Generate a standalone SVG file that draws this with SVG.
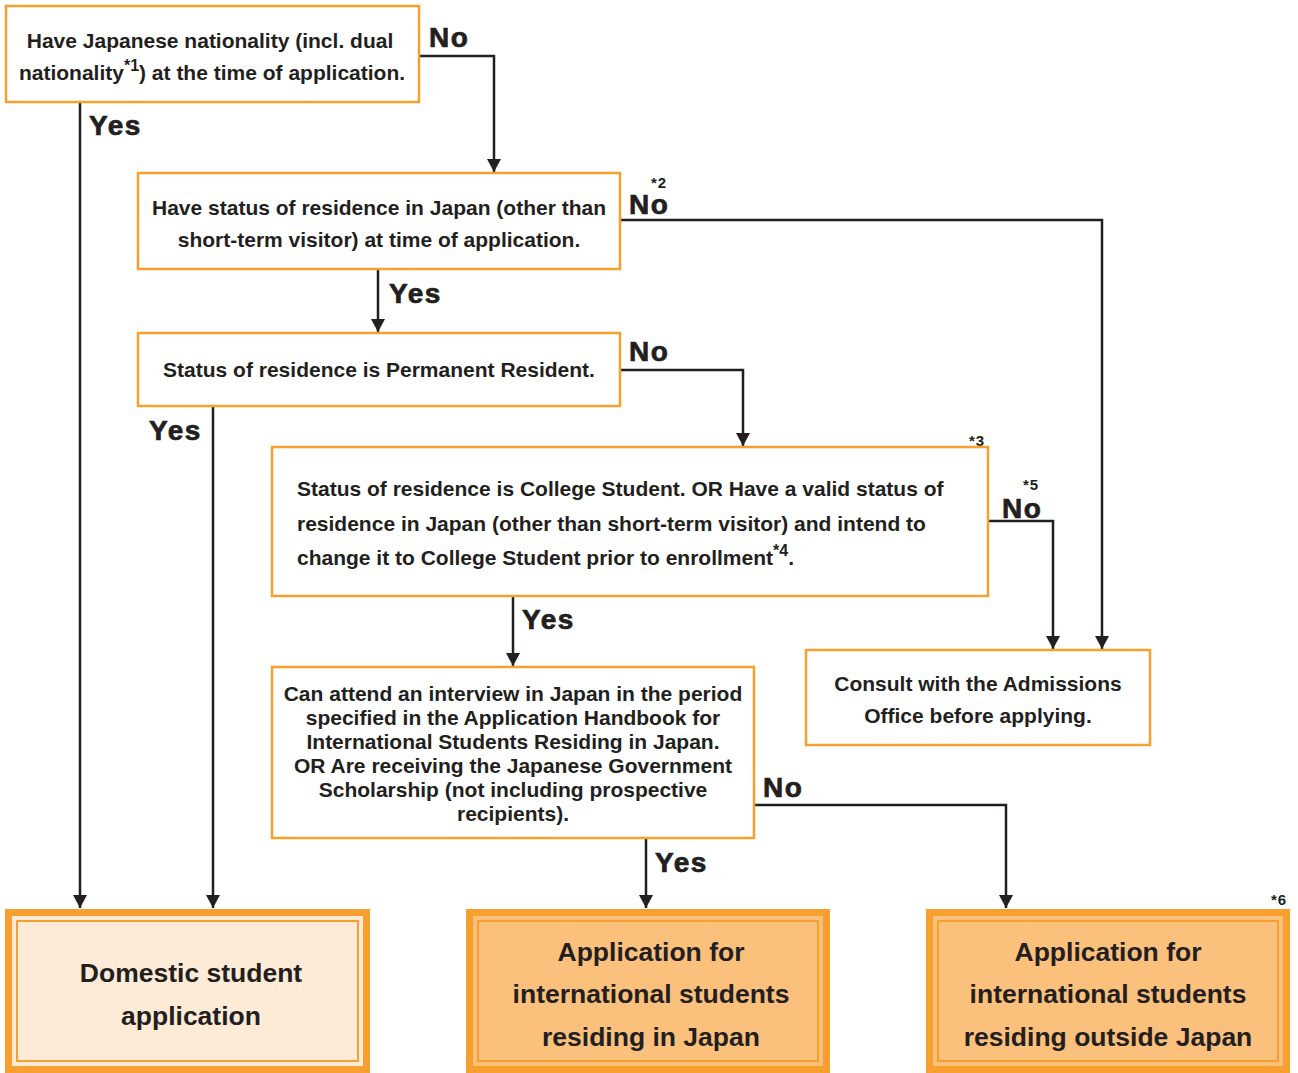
<svg xmlns="http://www.w3.org/2000/svg" width="1298" height="1073" viewBox="0 0 1298 1073">
<defs>
<style>
.box{fill:#fff;stroke:#F7A030;stroke-width:2.5}
.t{font-family:"Liberation Sans",Arial,sans-serif;font-weight:bold;fill:#231F20;font-size:21px}
.c{text-anchor:middle}
.lbl{font-family:"Liberation Sans",Arial,sans-serif;font-weight:900;fill:#231F20;stroke:#231F20;stroke-width:0.7;font-size:28px;letter-spacing:1.5px}
.sup{font-family:"Liberation Sans",Arial,sans-serif;font-weight:bold;fill:#231F20;font-size:15px;letter-spacing:1px}
.big{font-family:"Liberation Sans",Arial,sans-serif;font-weight:bold;fill:#231F20;font-size:26.5px;text-anchor:middle}
.conn{fill:none;stroke:#231F20;stroke-width:2.5;marker-end:url(#ah)}
.outer{stroke:#F7A030;stroke-width:7}
.inner{fill:none;stroke:#F7A030;stroke-width:2}
</style>
<marker id="ah" markerUnits="userSpaceOnUse" markerWidth="14" markerHeight="18" refX="13" refY="7" orient="auto">
<path d="M0,0 L13,7 L0,14 Z" fill="#231F20"/>
</marker>
</defs>
<rect width="1298" height="1073" fill="#fff"/>

<g id="connectors">
<path class="conn" d="M419,56 H494 V172"/>
<path class="conn" d="M80,102 V908"/>
<path class="conn" d="M620,220 H1102 V649"/>
<path class="conn" d="M378,269 V332"/>
<path class="conn" d="M620,370 H743 V446"/>
<path class="conn" d="M213,406 V908"/>
<path class="conn" d="M988,521 H1053 V649"/>
<path class="conn" d="M513,596 V666"/>
<path class="conn" d="M754,805 H1006 V908"/>
<path class="conn" d="M646,838 V908"/>
<text class="lbl" x="429" y="47">No</text>
<text class="lbl" x="89" y="135">Yes</text>
<text class="lbl" x="629" y="214">No</text>
<text class="sup" x="651" y="188">*2</text>
<text class="lbl" x="389" y="303">Yes</text>
<text class="lbl" x="629" y="361">No</text>
<text class="lbl" x="149" y="440">Yes</text>
<text class="sup" x="969" y="446">*3</text>
<text class="lbl" x="1002" y="518">No</text>
<text class="sup" x="1023" y="490">*5</text>
<text class="lbl" x="522" y="629">Yes</text>
<text class="lbl" x="763" y="797">No</text>
<text class="lbl" x="655" y="872">Yes</text>
</g>

<g id="q1">
<rect class="box" x="6" y="6" width="413" height="96"/>
<text class="t c" x="210" y="48">Have Japanese nationality (incl. dual</text>
<text class="t c" x="212" y="80">nationality<tspan font-size="16" dy="-9">*1</tspan><tspan dy="9">) at the time of application.</tspan></text>
</g>

<g id="q2">
<rect class="box" x="138" y="173" width="482" height="96"/>
<text class="t c" x="379" y="215">Have status of residence in Japan (other than</text>
<text class="t c" x="379" y="247">short-term visitor) at time of application.</text>
</g>

<g id="q3">
<rect class="box" x="138" y="333" width="482" height="73"/>
<text class="t c" x="379" y="377">Status of residence is Permanent Resident.</text>
</g>

<g id="q4">
<rect class="box" x="272" y="447" width="716" height="149"/>
<text class="t" x="297" y="496">Status of residence is College Student. OR Have a valid status of</text>
<text class="t" x="297" y="531">residence in Japan (other than short-term visitor) and intend to</text>
<text class="t" x="297" y="565">change it to College Student prior to enrollment<tspan font-size="16" dy="-9">*4</tspan><tspan dy="9">.</tspan></text>
</g>

<g id="q5">
<rect class="box" x="272" y="667" width="482" height="171"/>
<text class="t c" x="513" y="701">Can attend an interview in Japan in the period</text>
<text class="t c" x="513" y="725">specified in the Application Handbook for</text>
<text class="t c" x="513" y="749">International Students Residing in Japan.</text>
<text class="t c" x="513" y="773">OR Are receiving the Japanese Government</text>
<text class="t c" x="513" y="797">Scholarship (not including prospective</text>
<text class="t c" x="513" y="821">recipients).</text>
</g>

<g id="consult">
<rect class="box" x="806" y="650" width="344" height="95"/>
<text class="t c" x="978" y="691">Consult with the Admissions</text>
<text class="t c" x="978" y="723">Office before applying.</text>
</g>

<g id="domestic">
<rect class="outer" x="8.5" y="912.5" width="358" height="157" fill="#FDEBD7"/>
<rect class="inner" x="17" y="921" width="341" height="140"/>
<text class="big" x="191" y="982">Domestic student</text>
<text class="big" x="191" y="1025">application</text>
</g>

<g id="intl-in">
<rect class="outer" x="469.5" y="912.5" width="357" height="157" fill="#FBC07C"/>
<rect class="inner" x="478" y="921" width="340" height="140"/>
<text class="big" x="651" y="961">Application for</text>
<text class="big" x="651" y="1003">international students</text>
<text class="big" x="651" y="1046">residing in Japan</text>
</g>

<g id="intl-out">
<rect class="outer" x="929.5" y="912.5" width="357" height="157" fill="#FBC07C"/>
<rect class="inner" x="938" y="921" width="340" height="140"/>
<text class="big" x="1108" y="961">Application for</text>
<text class="big" x="1108" y="1003">international students</text>
<text class="big" x="1108" y="1046">residing outside Japan</text>
<text class="sup" x="1271" y="905">*6</text>
</g>
</svg>
